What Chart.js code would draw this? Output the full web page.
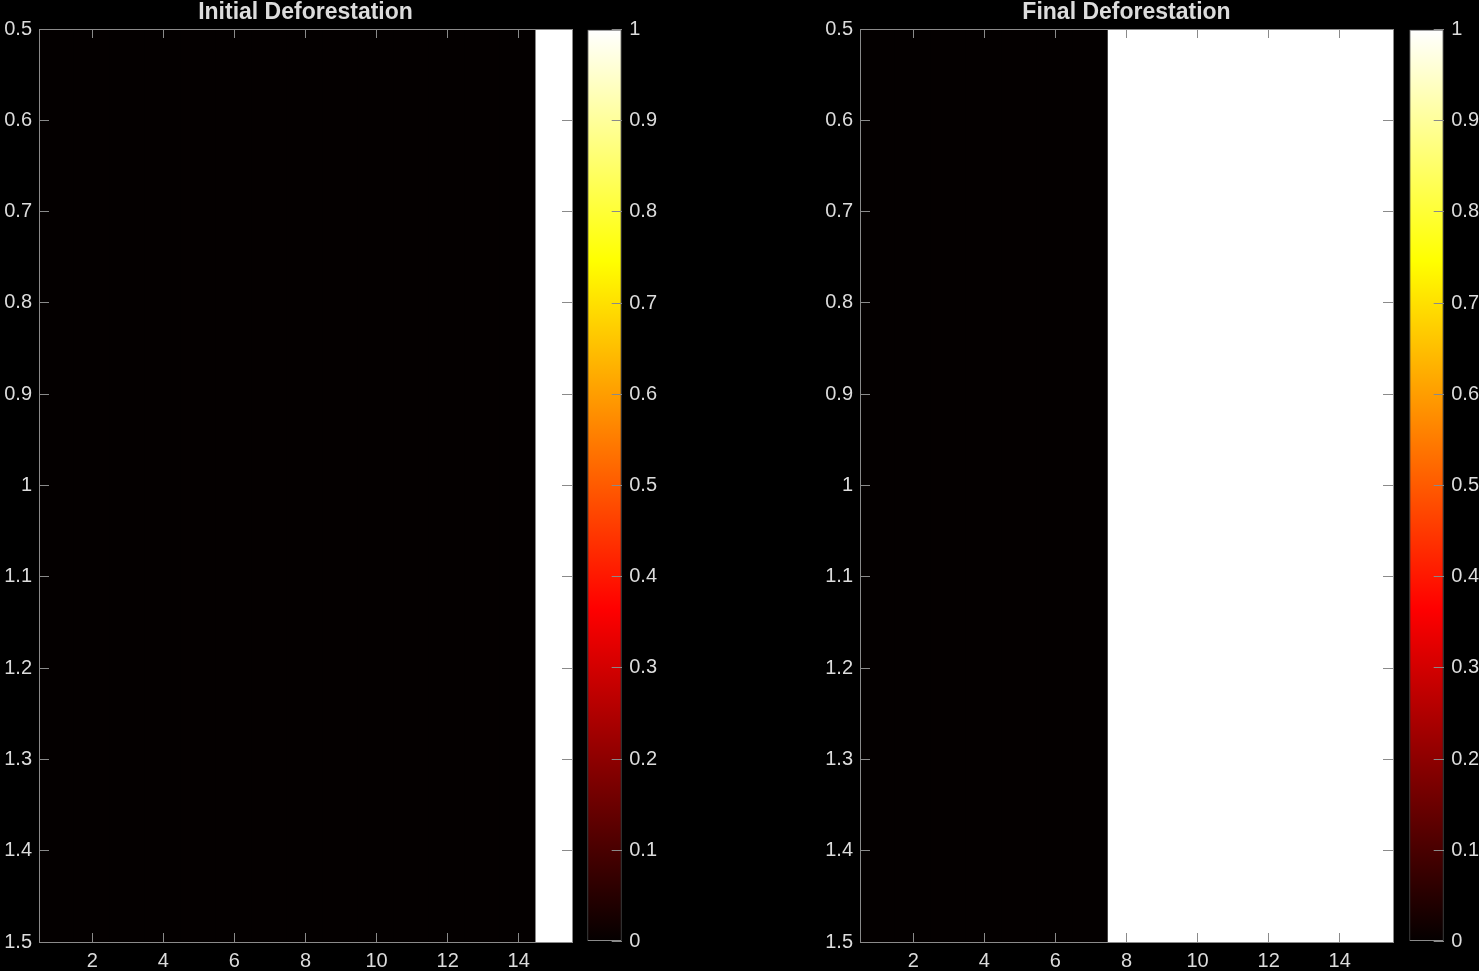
<!DOCTYPE html>
<html>
<head>
<meta charset="utf-8">
<script src="https://cdn.jsdelivr.net/npm/chart.js@4/dist/chart.umd.min.js"></script>
<style>
  html, body { margin: 0; padding: 0; background: #000; width: 1479px; height: 971px; overflow: hidden; }
  .box { position: absolute; top: 0; height: 971px; }
  canvas { display: block; }
</style>
</head>
<body>
<div class="box" id="b1" style="left:0px;width:611px"><canvas id="c1"></canvas></div>
<div class="box" id="b2" style="left:580px;width:90px"><canvas id="c2"></canvas></div>
<div class="box" id="b3" style="left:821px;width:611px"><canvas id="c3"></canvas></div>
<div class="box" id="b4" style="left:1402px;width:90px"><canvas id="c4"></canvas></div>
<script>
// ---- data ----
const columns = [1, 2, 3, 4, 5, 6, 7, 8, 9, 10, 11, 12, 13, 14, 15];
const rowIndex = 1;
const initialValues = [0, 0, 0, 0, 0, 0, 0, 0, 0, 0, 0, 0, 0, 0, 1];
const finalValues   = [0, 0, 0, 0, 0, 0, 0, 1, 1, 1, 1, 1, 1, 1, 1];
const xTicks = [2, 4, 6, 8, 10, 12, 14];
const yTicks = [0.5, 0.6, 0.7, 0.8, 0.9, 1.0, 1.1, 1.2, 1.3, 1.4, 1.5];
const cbTicks = [0, 0.1, 0.2, 0.3, 0.4, 0.5, 0.6, 0.7, 0.8, 0.9, 1];
const titles = ['Initial Deforestation', 'Final Deforestation'];
// hot colormap (piecewise linear stops)
const hotStops = [
  { t: 0,     rgb: [4, 0, 0] },
  { t: 0.365, rgb: [255, 0, 0] },
  { t: 0.746, rgb: [255, 255, 0] },
  { t: 1,     rgb: [255, 255, 255] }
];

// ---- styling ----
const TEXT = '#dcdcdc';
const LINE = '#8a8a8a';
Chart.defaults.font.family = '"Liberation Sans", Arial, Helvetica, sans-serif';
Chart.defaults.font.size = 20;
Chart.defaults.color = TEXT;

function hot(v) {
  for (let i = 1; i < hotStops.length; i++) {
    const a = hotStops[i - 1], b = hotStops[i];
    if (v <= b.t) {
      const f = (v - a.t) / (b.t - a.t);
      const c = a.rgb.map((x, k) => Math.round(x + (b.rgb[k] - x) * f));
      return `rgb(${c[0]},${c[1]},${c[2]})`;
    }
  }
  const l = hotStops[hotStops.length - 1].rgb;
  return `rgb(${l[0]},${l[1]},${l[2]})`;
}
const fmt = v => String(Math.round(v * 10) / 10);
const setTicks = arr => scale => { scale.ticks = arr.map(v => ({ value: v })); };
const fixW = w => scale => { scale.width = w; };
const fixH = h => scale => { scale.height = h; };

function heatmap(canvasId, values, title) {
  const xMin = columns[0] - 0.5, xMax = columns[columns.length - 1] + 0.5;
  return new Chart(document.getElementById(canvasId), {
    type: 'bar',
    data: {
      datasets: [{
        data: columns.map(c => ({ x: c, y: [rowIndex - 0.5, rowIndex + 0.5] })),
        backgroundColor: values.map(hot),
        borderWidth: 0,
        inflateAmount: 1,
        barPercentage: 1,
        categoryPercentage: 1
      }]
    },
    options: {
      responsive: true,
      maintainAspectRatio: false,
      animation: false,
      layout: { padding: 0 },
      plugins: {
        legend: { display: false },
        tooltip: { enabled: false },
        title: {
          display: true, text: title, color: TEXT,
          font: { size: 23, weight: 'bold', lineHeight: 22 / 23 },
          padding: { top: 0, bottom: 5 }
        }
      },
      scales: {
        x: {
          type: 'linear', position: 'bottom', min: xMin, max: xMax, offset: false,
          afterBuildTicks: setTicks(xTicks), afterFit: fixH(29),
          ticks: { padding: 16, callback: v => String(v), maxRotation: 0, autoSkip: false },
          grid: { offset: false, drawOnChartArea: false, tickLength: -9, color: LINE, z: 1 },
          border: { display: true, color: LINE, width: 1, z: 1 }
        },
        x2: {
          type: 'linear', position: 'top', min: xMin, max: xMax, offset: false,
          afterBuildTicks: setTicks(xTicks), afterFit: fixH(0),
          ticks: { display: false },
          grid: { offset: false, drawOnChartArea: false, tickLength: -9, color: LINE, z: 1 },
          border: { display: true, color: LINE, width: 1, z: 1 }
        },
        y: {
          type: 'linear', position: 'left', reverse: true, min: 0.5, max: 1.5,
          afterBuildTicks: setTicks(yTicks), afterFit: fixW(39),
          ticks: { padding: 17, callback: v => fmt(v), autoSkip: false },
          grid: { offset: false, drawOnChartArea: false, tickLength: -10, color: LINE, z: 1 },
          border: { display: true, color: LINE, width: 1, z: 1 }
        },
        y2: {
          type: 'linear', position: 'right', reverse: true, min: 0.5, max: 1.5,
          afterBuildTicks: setTicks(yTicks), afterFit: fixW(39),
          ticks: { display: false },
          grid: { offset: false, drawOnChartArea: false, tickLength: -10, color: LINE, z: 1 },
          border: { display: true, color: LINE, width: 1, z: 1 }
        }
      }
    }
  });
}

function colorbar(canvasId) {
  return new Chart(document.getElementById(canvasId), {
    type: 'bar',
    data: {
      labels: ['cb'],
      datasets: [{
        data: [[cbTicks[0], cbTicks[cbTicks.length - 1]]],
        backgroundColor: ctx => {
          const chart = ctx.chart;
          if (!chart.chartArea) return 'rgba(0,0,0,0)';
          const ys = chart.scales.y;
          const g = chart.ctx.createLinearGradient(0, ys.getPixelForValue(0), 0, ys.getPixelForValue(1));
          hotStops.forEach(s => g.addColorStop(s.t, `rgb(${s.rgb.join(',')})`));
          return g;
        },
        borderColor: LINE,
        borderWidth: 1,
        borderSkipped: false,
        inflateAmount: 0,
        barPercentage: 1,
        categoryPercentage: 1
      }]
    },
    options: {
      responsive: true,
      maintainAspectRatio: false,
      animation: false,
      layout: { padding: { left: 7.3, top: 27, bottom: 29, right: 0 } },
      plugins: { legend: { display: false }, tooltip: { enabled: false } },
      scales: {
        x: { display: false },
        y: {
          type: 'linear', position: 'right', min: 0, max: 1,
          afterBuildTicks: setTicks(cbTicks), afterFit: fixW(48.3),
          ticks: { padding: 17.5, callback: v => fmt(v), autoSkip: false },
          grid: { offset: false, drawOnChartArea: false, tickLength: -10, color: LINE, z: 1 },
          border: { display: false }
        }
      }
    }
  });
}

heatmap('c1', initialValues, titles[0]);
colorbar('c2');
heatmap('c3', finalValues, titles[1]);
colorbar('c4');
</script>
</body>
</html>
